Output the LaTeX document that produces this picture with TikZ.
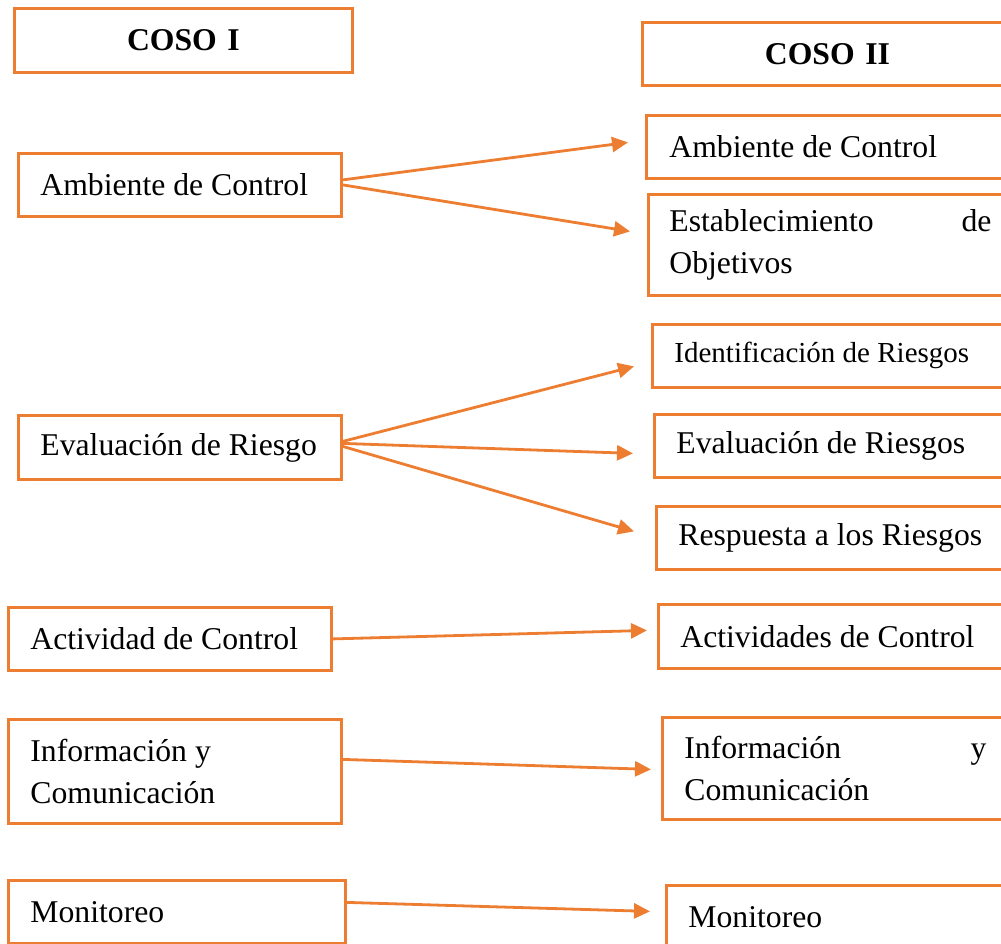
\documentclass[tikz,border=0pt]{standalone}
\usepackage{fontspec}
\setmainfont{Liberation Serif}
\usetikzlibrary{arrows.meta}
\definecolor{cosoorange}{HTML}{ED7D31}

\begin{document}
\begin{tikzpicture}[x=1pt,y=-1pt,
	box/.style={draw=cosoorange,line width=2.8pt,anchor=north west,inner xsep=22pt,inner ysep=0pt,align=flush left,font=\fontsize{31.7}{42}\selectfont},
	title/.style={align=center,font=\bfseries\fontsize{31.7}{42}\selectfont},
	arr/.style={-{Triangle[length=16pt,width=15pt]},cosoorange,line width=2.8pt}]
	\useasboundingbox (0,0) rectangle (1001,943);
	\clip (0,0) rectangle (1001,943);
	% COSO I
	\node[box,title,minimum height=64,text width=294] at (13,7) (cosoI) {COSO I};
	\node[box,minimum height=63,text width=279] at (17,152) (ambI) {Ambiente de Control};
	\node[box,minimum height=64,text width=279] at (17,414) (evalI) {Evaluación de Riesgo};
	\node[box,minimum height=63,text width=279] at (7,606) (actI) {Actividad de Control};
	\node[box,minimum height=104,text width=289] at (7,718) (infI) {Información y\\Comunicación};
	\node[box,minimum height=63,text width=293] at (7,879) (monI) {Monitoreo};
	% COSO II
	\node[box,title,minimum height=63,text width=326] at (641,21) (cosoII) {COSO II};
	\node[box,minimum height=63,text width=320,inner xsep=23pt] at (645,114) (ambII) {Ambiente de Control};
	\node[box,align=justify,minimum height=101,text width=322,inner xsep=21pt] at (647,193) (estII) {Establecimiento\hfill de\\Objetivos};
	\node[box,minimum height=63,text width=316,font=\fontsize{29}{38}\selectfont] at (651,323) (idII) {Identificación de Riesgos};
	\node[box,minimum height=63,text width=314] at (653,413) (evII) {Evaluación de Riesgos};
	\node[box,minimum height=63,text width=312] at (655,505) (respII) {Respuesta a los Riesgos};
	\node[box,minimum height=64,text width=310] at (657,603) (actII) {Actividades de Control};
	\node[box,align=justify,minimum height=102,text width=302] at (661,716) (infII) {Información\hfill y\\Comunicación};
	\node[box,minimum height=63,text width=302] at (665,884) (monII) {Monitoreo};
	% arrows
	\draw[arr] ([yshift=5pt]ambI.east) -- ([xshift=-17pt,yshift=4.5pt]ambII.west);
	\draw[arr] (ambI.east) -- ([xshift=-17pt,yshift=13.5pt]estII.west);
	\draw[arr] ([yshift=6pt]evalI.east) -- ([xshift=-17pt,yshift=-10.5pt]idII.west);
	\draw[arr] ([yshift=4pt]evalI.east) -- ([xshift=-20pt,yshift=-7.5pt]evII.west);
	\draw[arr] ([yshift=1pt]evalI.east) -- ([xshift=-21pt,yshift=6.5pt]respII.west);
	\draw[arr] (actI.east) -- ([xshift=-10pt,yshift=6pt]actII.west);
	\draw[arr] ([yshift=12pt]infI.east) -- ([xshift=-10pt,yshift=-1pt]infII.west);
	\draw[arr] ([yshift=9.5pt]monI.east) -- ([xshift=-15pt,yshift=5.5pt]monII.west);
\end{tikzpicture}
\end{document}
